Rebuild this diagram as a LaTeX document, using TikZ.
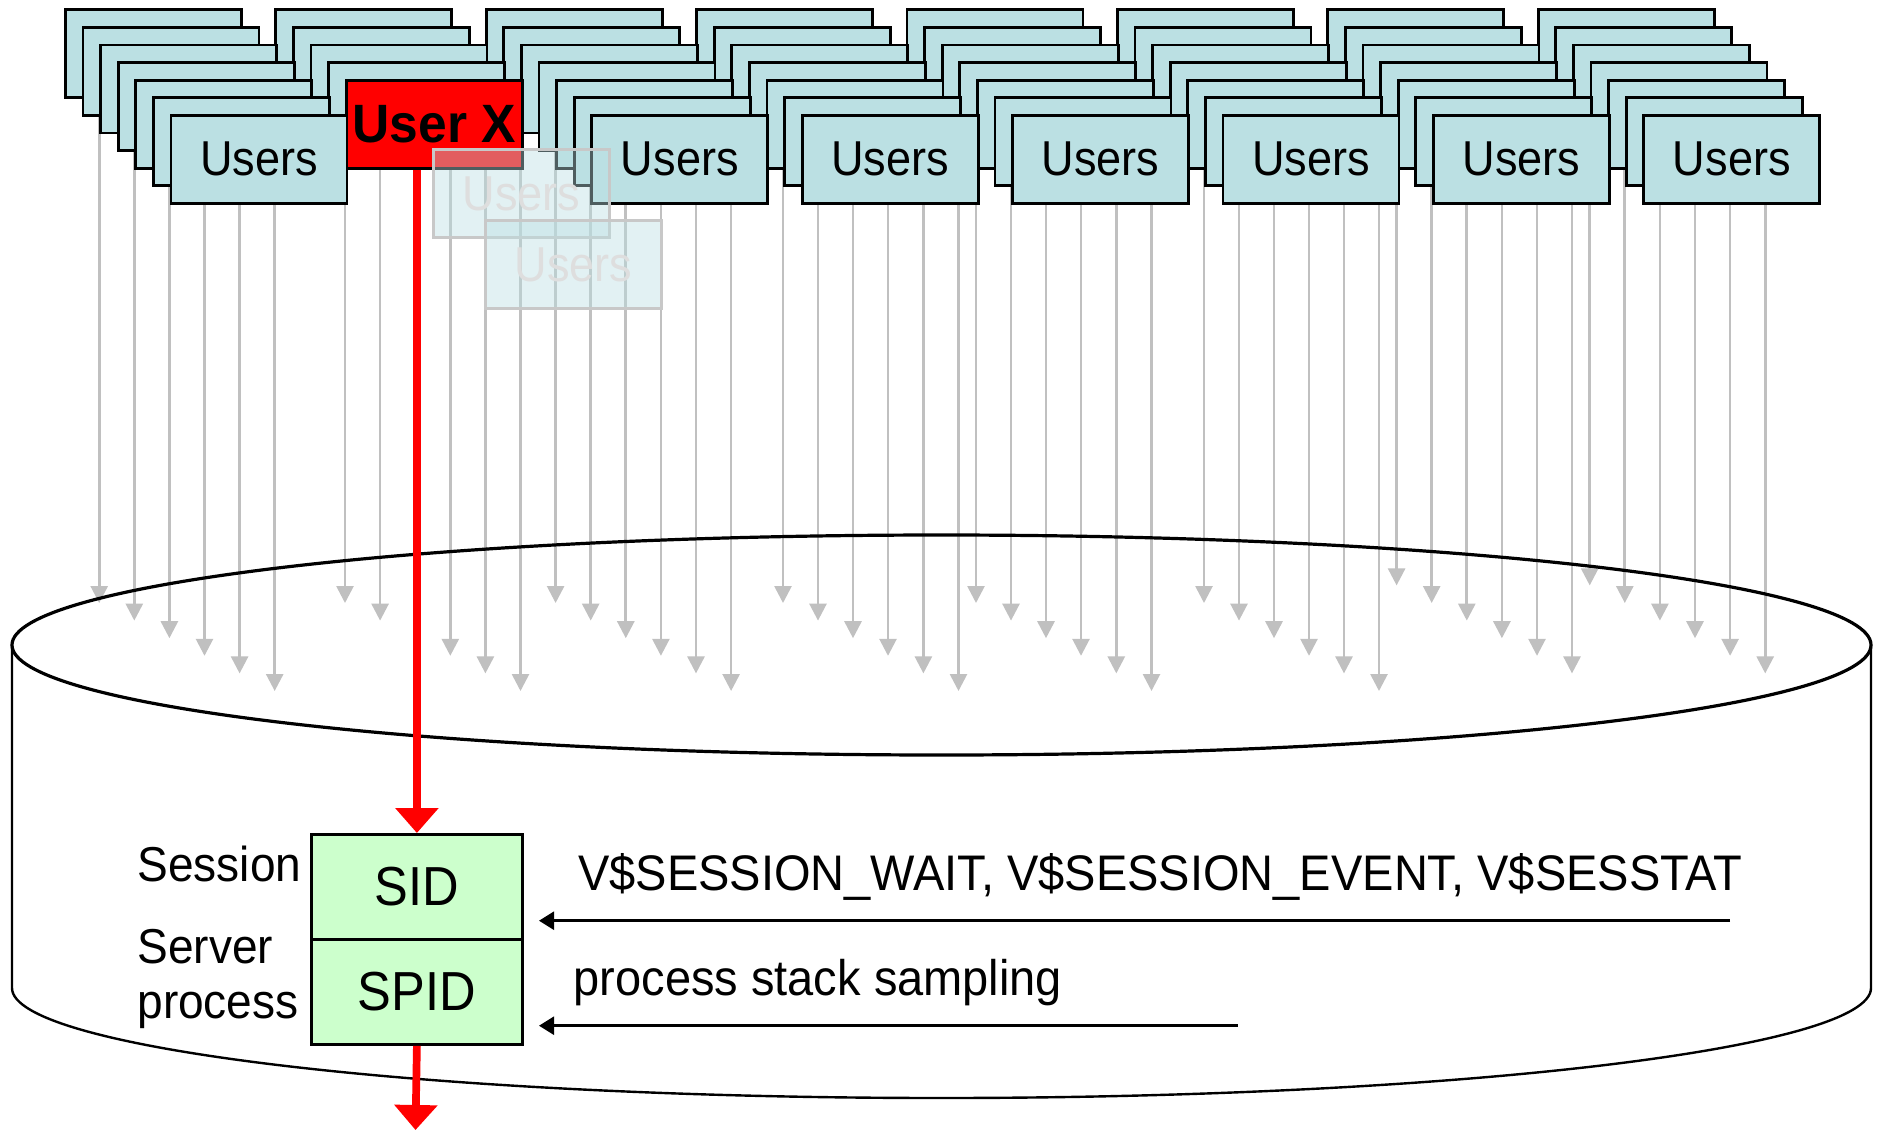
\documentclass[tikz,border=0pt]{standalone}
\usepackage{fontspec}
\setmainfont{Liberation Sans}[FakeStretch=0.92]
\newfontfamily\heavyfont{Liberation Sans}[FakeStretch=0.955]
\newfontfamily\labelfont{Liberation Sans}[FakeStretch=0.94]
\usetikzlibrary{arrows.meta}

\definecolor{userblue}{RGB}{187,224,227}
\definecolor{idgreen}{RGB}{204,255,204}
\definecolor{flowgray}{RGB}{192,192,192}
\definecolor{ghostline}{RGB}{200,200,200}
\definecolor{ghosttext}{RGB}{222,222,222}

\tikzset{
  userbox/.style={draw=black, line width=2.8pt, fill=userblue,
    minimum width=176pt, minimum height=88pt, inner sep=0pt,
    anchor=north west, font=\fontsize{49}{58}\selectfont},
  userx/.style={userbox, fill=red,
    font=\heavyfont\bfseries\fontsize{54}{60}\selectfont},
  ghostbox/.style={userbox, draw=ghostline, fill=userblue,
    fill opacity=0.42, text opacity=1, text=ghosttext},
  idbox/.style={draw=black, line width=2.8pt, fill=idgreen,
    minimum width=211pt, minimum height=105pt, inner sep=0pt,
    anchor=north west, font=\fontsize{55}{62}\selectfont},
  lbl/.style={inner sep=0pt, anchor=base west,
    font=\labelfont\fontsize{49}{55}\selectfont},
  srclbl/.style={lbl, font=\labelfont\fontsize{50}{50}\selectfont},
  flow/.style={draw=flowgray, line width=2.7pt,
    -{Triangle[length=17pt,width=17pt]}},
  redflow/.style={draw=red, line width=7.7pt,
    -{Triangle[length=25pt,width=42pt]}},
  probe/.style={draw=black, line width=2.5pt,
    -{Triangle[length=15pt,width=18pt]}},
}

\begin{document}
\begin{tikzpicture}[x=1pt,y=-1pt]
\useasboundingbox (0,0) rectangle (1877,1130);
\fill[white] (0,0) rectangle (1877,1130);

% session streams flowing down into the instance
\foreach \x/\t [count=\i] in {
  99.2/603, 134.3/620.6, 169.4/638.2, 204.5/655.8, 239.6/673.4, 274.7/691,
  345/603, 380.1/620.6, 450.3/655.8, 485.4/673.4, 520.5/691,
  555.6/603, 590.7/620.6, 625.8/638.2, 660.9/655.8, 696/673.4, 731.1/691,
  783/603, 818/620.6, 853/638.2, 888/655.8, 923.4/673.4, 958.5/691,
  976/603, 1011/620.6, 1046/638.2, 1081/655.8, 1116.3/673.4, 1151.5/691,
  1204/603, 1239/620.6, 1274/638.2, 1309/655.8, 1344/673.4, 1379/691,
  1396.6/585.4, 1431.7/603, 1466.8/620.6, 1501.9/638.2, 1537/655.8, 1572/673.4,
  1589.7/585.4, 1624.8/603, 1659.9/620.6, 1695/638.2, 1730.1/655.8, 1765.2/673.4}{
  \coordinate (fs\i) at (\x,100);
  \coordinate (fe\i) at (\x,\t);
  \draw[flow] (fs\i) -- (fe\i);
}

% database instance drawn as a cylinder
\draw[line width=3.2pt] (941.5,645) ellipse [x radius=929.5pt, y radius=110pt];
\draw[line width=2.4pt] (12,645) -- (12,988)
  arc[start angle=180, end angle=0, x radius=929.5, y radius=110] -- (1871,645);

% stacks of user boxes, drawn row by row from the back
\foreach \r in {0,...,6}{
  \foreach \g in {0,...,7}{
    \pgfmathtruncatemacro{\isgone}{(\g==1)&&(\r>3)}
    \ifnum\isgone=0
      \node[userbox] (b\g\r) at ({64+210.4*\g+17.6*\r},{8.3+17.6*\r})
        {\ifnum\r=6 Users\fi};
    \fi
  }
  \ifnum\r=4
    \node[userx] (ux) at (344.9,78.7) {User X};
  \fi
}

% two users that have dropped out of the stack
\node[ghostbox] (gh1) at (432,148) {Users};
\node[ghostbox] (gh2) at (484,219) {Users};

% session / server process identifiers
\node[idbox] (sid) at (310,833) {SID};
\node[idbox] (spid) at (310,938) {SPID};

\node[lbl] (lsess) at (137.2,881.7) {Session};
\node[lbl, align=left] (lserv) at (137.2,1018.3) {Server\\process};

% path of the traced user
\draw[redflow] (sid.north |- ux.south) -- (sid.north);
\coordinate (out) at (415.5,1130);
\draw[redflow] (spid.south) -- (out);

% instrumentation sources
\node[srclbl] (lviews) at (578,890.7)
  {V\$SESSION\_WAIT, V\$SESSION\_EVENT, V\$SESSTAT};
\node[srclbl] (lstack) at (573.5,995) {process stack sampling};
\coordinate (w1) at (1730,920.7);
\coordinate (w1t) at (539,920.7);
\draw[probe] (w1) -- (w1t);
\coordinate (w2) at (1237.5,1025.7);
\coordinate (w2t) at (539,1025.7);
\draw[probe] (w2) -- (w2t);
\end{tikzpicture}
\end{document}
